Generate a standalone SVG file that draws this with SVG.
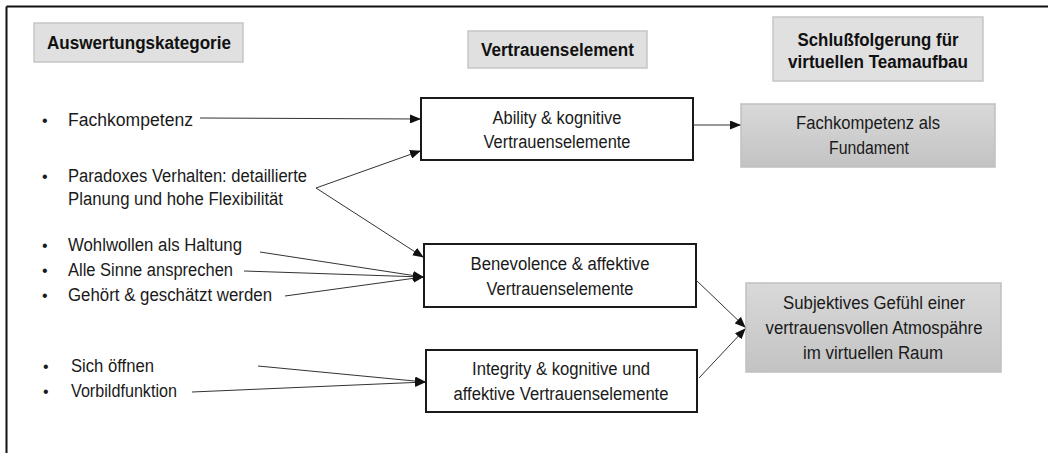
<svg xmlns="http://www.w3.org/2000/svg" width="1048" height="453" viewBox="0 0 1048 453">
<defs>
<linearGradient id="grad" x1="0" y1="0" x2="0" y2="1">
<stop offset="0" stop-color="#d9d9d9"/>
<stop offset="1" stop-color="#c3c3c3"/>
</linearGradient>
<marker id="arr" markerWidth="11" markerHeight="9" refX="10" refY="4.5" orient="auto" markerUnits="userSpaceOnUse">
<path d="M0,0 L11,4.5 L0,9 z" fill="#111"/>
</marker>
<style>
.hdr{fill:#e0e0e0;stroke:#c6c6c6;stroke-width:1.5}
.hdrt{font-family:"Liberation Sans",Arial,sans-serif;font-size:18px;font-weight:bold;fill:#111;text-anchor:middle}
.node{fill:#fff;stroke:#1a1a1a;stroke-width:2}
.res{fill:url(#grad);stroke:#c0c0c0;stroke-width:1.5}
.t{font-family:"Liberation Sans",Arial,sans-serif;font-size:18px;fill:#1a1a1a}
.b{font-family:"Liberation Sans",Arial,sans-serif;font-size:16px;fill:#1a1a1a}
.c{text-anchor:middle}
.ln{stroke:#333;stroke-width:1;fill:none;marker-end:url(#arr)}
.frame{stroke:#111;stroke-width:2}
</style>
</defs>
<rect x="0" y="0" width="1048" height="453" fill="#fff"/>
<line class="frame" x1="6.5" y1="6.5" x2="1048" y2="6.5"/>
<line class="frame" x1="6.5" y1="6.5" x2="6.5" y2="453"/>

<g id="hdr-auswertung">
<rect class="hdr" x="34" y="23" width="209" height="39"/>
<text class="hdrt" x="139" y="49" textLength="184" lengthAdjust="spacingAndGlyphs">Auswertungskategorie</text>
</g>
<g id="hdr-vertrauen">
<rect class="hdr" x="468" y="31" width="179" height="37"/>
<text class="hdrt" x="557.5" y="56" textLength="153" lengthAdjust="spacingAndGlyphs">Vertrauenselement</text>
</g>
<g id="hdr-schluss">
<rect class="hdr" x="773" y="17" width="210" height="64"/>
<text class="hdrt" x="878" y="46" textLength="161" lengthAdjust="spacingAndGlyphs">Schlußfolgerung für</text>
<text class="hdrt" x="878" y="68" textLength="180" lengthAdjust="spacingAndGlyphs">virtuellen Teamaufbau</text>
</g>

<g id="list-ability">
<text class="b" x="42" y="126">•</text>
<text class="t" x="68" y="126" textLength="125" lengthAdjust="spacingAndGlyphs">Fachkompetenz</text>
<text class="b" x="42" y="182">•</text>
<text class="t" x="68" y="182" textLength="239" lengthAdjust="spacingAndGlyphs">Paradoxes Verhalten: detaillierte</text>
<text class="t" x="68" y="205" textLength="215" lengthAdjust="spacingAndGlyphs">Planung und hohe Flexibilität</text>
</g>
<g id="list-benevolence">
<text class="b" x="42" y="251">•</text>
<text class="t" x="68" y="251" textLength="174" lengthAdjust="spacingAndGlyphs">Wohlwollen als Haltung</text>
<text class="b" x="42" y="276">•</text>
<text class="t" x="68" y="276" textLength="165" lengthAdjust="spacingAndGlyphs">Alle Sinne ansprechen</text>
<text class="b" x="42" y="301">•</text>
<text class="t" x="68" y="301" textLength="204" lengthAdjust="spacingAndGlyphs">Gehört &amp; geschätzt werden</text>
</g>
<g id="list-integrity">
<text class="b" x="43" y="372">•</text>
<text class="t" x="71" y="372" textLength="83" lengthAdjust="spacingAndGlyphs">Sich öffnen</text>
<text class="b" x="43" y="397">•</text>
<text class="t" x="71" y="397" textLength="106" lengthAdjust="spacingAndGlyphs">Vorbildfunktion</text>
</g>

<g id="node-ability">
<rect class="node" x="421" y="98" width="272" height="62"/>
<text class="t c" x="557" y="124" textLength="129" lengthAdjust="spacingAndGlyphs">Ability &amp; kognitive</text>
<text class="t c" x="557" y="148" textLength="147" lengthAdjust="spacingAndGlyphs">Vertrauenselemente</text>
</g>
<g id="node-benevolence">
<rect class="node" x="424" y="244" width="272" height="63"/>
<text class="t c" x="560" y="270" textLength="179" lengthAdjust="spacingAndGlyphs">Benevolence &amp; affektive</text>
<text class="t c" x="560" y="295" textLength="147" lengthAdjust="spacingAndGlyphs">Vertrauenselemente</text>
</g>
<g id="node-integrity">
<rect class="node" x="426" y="350" width="271" height="62"/>
<text class="t c" x="561" y="375" textLength="178" lengthAdjust="spacingAndGlyphs">Integrity &amp; kognitive und</text>
<text class="t c" x="561" y="400" textLength="215" lengthAdjust="spacingAndGlyphs">affektive Vertrauenselemente</text>
</g>
<g id="node-fundament">
<rect class="res" x="741" y="104" width="254" height="63"/>
<text class="t c" x="868" y="129" textLength="144" lengthAdjust="spacingAndGlyphs">Fachkompetenz als</text>
<text class="t c" x="869" y="154" textLength="80" lengthAdjust="spacingAndGlyphs">Fundament</text>
</g>
<g id="node-atmosphaere">
<rect class="res" x="746" y="283" width="255" height="89"/>
<text class="t c" x="874" y="309" textLength="182" lengthAdjust="spacingAndGlyphs">Subjektives Gefühl einer</text>
<text class="t c" x="874" y="334" textLength="217" lengthAdjust="spacingAndGlyphs">vertrauensvollen Atmospähre</text>
<text class="t c" x="873" y="359" textLength="140" lengthAdjust="spacingAndGlyphs">im virtuellen Raum</text>
</g>

<g id="connectors">
<line class="ln" x1="200" y1="118" x2="420" y2="119"/>
<line class="ln" x1="316" y1="188" x2="420" y2="151"/>
<line class="ln" x1="316" y1="188" x2="423" y2="257"/>
<line class="ln" x1="260" y1="252" x2="423" y2="277"/>
<line class="ln" x1="244" y1="271" x2="423" y2="277"/>
<line class="ln" x1="285" y1="296" x2="423" y2="277"/>
<line class="ln" x1="693" y1="125" x2="740" y2="125"/>
<line class="ln" x1="258" y1="366" x2="425" y2="382"/>
<line class="ln" x1="192" y1="392" x2="425" y2="382"/>
<line class="ln" x1="696" y1="280" x2="745" y2="327"/>
<line class="ln" x1="699" y1="378" x2="745" y2="329"/>
</g>
</svg>
